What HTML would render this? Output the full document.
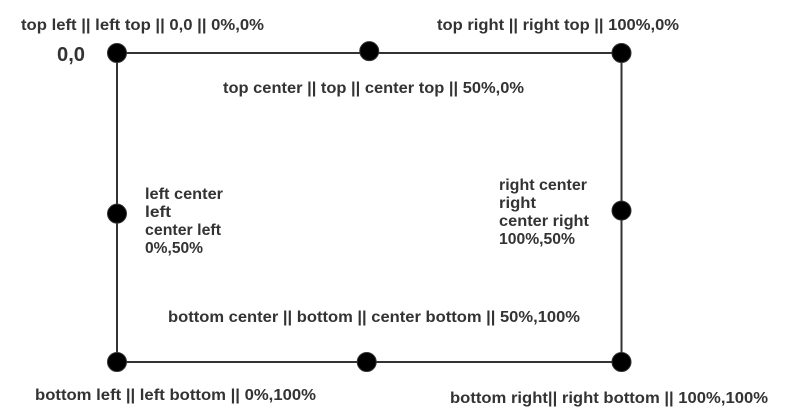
<!DOCTYPE html>
<html><head><meta charset="utf-8"><style>
html,body{margin:0;padding:0;background:#fff;width:802px;height:420px;overflow:hidden}
svg text{font-family:"Liberation Sans",sans-serif;font-weight:bold;fill:#333;font-size:16px}
</style></head><body>
<svg id="c" width="802" height="420" xmlns="http://www.w3.org/2000/svg">
<rect x="117" y="53" width="504.5" height="309" fill="none" stroke="#333" stroke-width="2"/>
</svg>
<script>
const ptX = [0, 50, 100, 0, 100, 0, 49.5, 100];
const ptY = [0, -0.6, 0, 52, 51, 100, 100, 100];
const ptNames = ['top-left','top-center','top-right','left-center','right-center','bottom-left','bottom-center','bottom-right'];
const labelText = ['top left || left top || 0,0 || 0%,0%','0,0','top right || right top || 100%,0%','top center || top || center top || 50%,0%',
'left center','left','center left','0%,50%','right center','right','center right','100%,50%',
'bottom center || bottom || center bottom || 50%,100%','bottom left || left bottom || 0%,100%','bottom right|| right bottom || 100%,100%'];
const labelX = [21,57,437,223,145,145,145,145,499,499,499,499,168,35,450];
const labelY = [30,61,30,93,199,217,235,253,190,208,226,244,322,400,403];
const labelW = [243,28,242,301,78,26,76,58,88,37,90,76,412,281,318];
const labelS = [16,20,16,16,16,16,16,16,16,16,16,16,16,16,16];
const NS='http://www.w3.org/2000/svg', svg=document.getElementById('c');
const X0=117,X1=621.5,Y0=53,Y1=362;
const sx=v=>X0+(X1-X0)*v/100, sy=v=>Y0+(Y1-Y0)*v/100;
for(let i=0;i<ptX.length;i++){
  const c=document.createElementNS(NS,'circle');
  c.setAttribute('cx',sx(ptX[i]));c.setAttribute('cy',sy(ptY[i]));c.setAttribute('r',9.5);
  c.setAttribute('fill','#000');c.setAttribute('stroke','#333');c.setAttribute('stroke-width','1');
  
  
  svg.appendChild(c);
}
for(let i=0;i<labelText.length;i++){
  const t=document.createElementNS(NS,'text');
  t.setAttribute('x',labelX[i]);t.setAttribute('y',labelY[i]);
  t.setAttribute('textLength',labelW[i]);t.setAttribute('lengthAdjust','spacingAndGlyphs');
  t.style.fontSize=labelS[i]+'px';
  t.textContent=labelText[i];
  
  
  svg.appendChild(t);
}
</script>
</body></html>
